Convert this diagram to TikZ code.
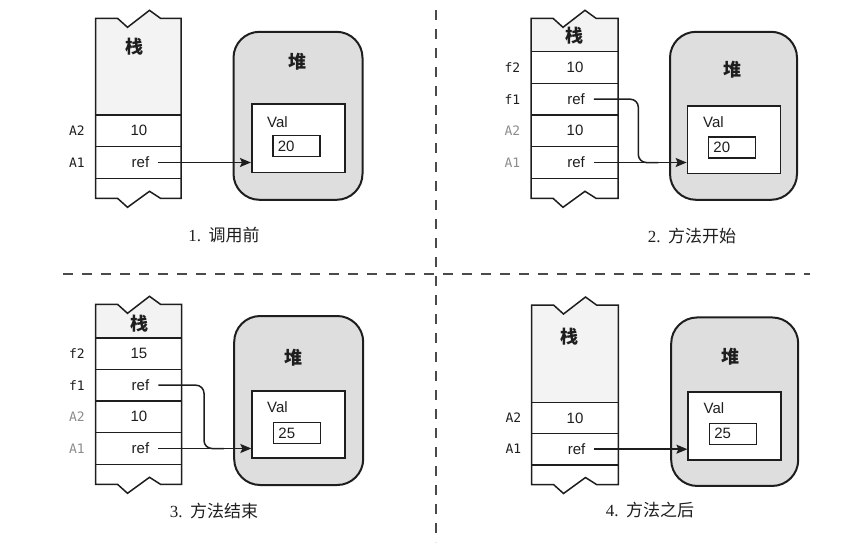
\documentclass[tikz,border=0pt]{standalone}
\usepackage{fontspec}
\setmainfont{Liberation Sans}
\newfontfamily\cjk{Noto Sans CJK SC}
\newfontfamily\monofont{DejaVu Sans Mono}
\newfontfamily\seriffont{Liberation Serif}
\usetikzlibrary{arrows.meta}
\definecolor{ink}{HTML}{1E1E1E}
\definecolor{heapfill}{HTML}{DEDEDE}
\definecolor{stackfill}{HTML}{F3F3F3}
\definecolor{dimlabel}{HTML}{8C8C8C}
\definecolor{divcol}{HTML}{4A4A4A}
% #1 L, #2 T, #3 R, #4 B, #5 first row line
\newcommand{\mystackbody}[5]{%
  \fill[white] (#1,#2) -- (#1+22,#2) -- (#1+32,#2+9) -- (#1+54,#2-8) -- (#1+65,#2) -- (#3,#2)
     -- (#3,#4) -- (#1+65,#4) -- (#1+54,#4-7) -- (#1+32,#4+9) -- (#1+22,#4) -- (#1,#4) -- cycle;
  \fill[stackfill] (#1,#2) -- (#1+22,#2) -- (#1+32,#2+9) -- (#1+54,#2-8) -- (#1+65,#2) -- (#3,#2)
     -- (#3,#5) -- (#1,#5) -- cycle;
  \draw[stackline] (#1,#2) -- (#1+22,#2) -- (#1+32,#2+9) -- (#1+54,#2-8) -- (#1+65,#2) -- (#3,#2)
     -- (#3,#4) -- (#1+65,#4) -- (#1+54,#4-7) -- (#1+32,#4+9) -- (#1+22,#4) -- (#1,#4) -- cycle;
}
\begin{document}
\begin{tikzpicture}[x=1pt,y=-1pt,
  stackline/.style={draw=ink,line width=1.5pt,line join=miter},
  heap/.style={draw=ink,line width=2pt,fill=heapfill,rounded corners=26pt,inner sep=0pt},
  objbox/.style={draw=ink,line width=1.7pt,fill=white,inner sep=0pt},
  valbox/.style={draw=ink,line width=1.5pt,fill=white,inner sep=0pt,minimum width=47pt,minimum height=21pt},
  cell/.style={font=\fontsize{15}{15}\selectfont,text=ink,inner sep=1pt},
  valtext/.style={font=\fontsize{15}{15}\selectfont,text=ink,inner sep=0pt,anchor=west},
  cjktitle/.style={font=\cjk\bfseries\fontsize{18}{18}\selectfont,text=ink,inner sep=0pt},
  varlabel/.style={font=\monofont\fontsize{13}{13}\selectfont,text=ink,anchor=east,inner sep=0pt},
  dimvar/.style={varlabel,text=dimlabel},
  conn/.style={draw=ink,line width=1.5pt,-{Stealth[length=11pt,width=9pt,inset=2pt]}},
  joinline/.style={draw=ink,line width=1.5pt,rounded corners=8pt},
  caption/.style={font=\cjk\fontsize{17}{17}\selectfont,text=ink,inner sep=0pt},
  divider/.style={draw=divcol,line width=1.7pt,dash pattern=on 10pt off 9pt}]
\useasboundingbox (0,0) rectangle (864,544);

% ---------- dividers ----------
\coordinate (vtop) at (436,10);
\coordinate (vbot) at (436,542);
\coordinate (hleft) at (63,274);
\coordinate (hright) at (810,274);
\draw[divider] (vtop) -- (vbot);
\draw[divider] (hleft) -- (hright);

% ---------- panel 1 ----------
\mystackbody{95.5}{18.3}{181}{198.3}{115}
\draw[stackline] (95.5,115) -- (181,115) (95.5,146.7) -- (181,146.7) (95.5,178.3) -- (181,178.3);
\node[cjktitle] (p1stack) at (134.5,46.7) {栈};
\node[cell] (p1a2) at (139,130.8) {10};
\node[cell] (p1a1) at (140.5,162.5) {ref};
\node[varlabel] (p1la2) at (85,130.8) {A2};
\node[varlabel] (p1la1) at (85,162.5) {A1};
\node[heap,minimum width=129pt,minimum height=168pt] (p1heap) at (298,115.8) {};
\node[cjktitle] (p1heapt) at (297,61.7) {堆};
\node[objbox,minimum width=93pt,minimum height=68.5pt] (p1obj) at (298.3,138.3) {};
\node[cell,inner sep=0pt] (p1valt) at (277.5,121.7) {Val};
\node[valbox] (p1vb) at (296.3,146.2) {};
\node[valtext] (p1num) at ([xshift=5.5pt]p1vb.west) {20};
\draw[conn] ([xshift=8pt]p1a1.east) -- (p1a1.east -| p1obj.west);
\node[caption] (p1cap) at (224,235.5) {{\seriffont 1.}\hspace{0.45em}调用前};

% ---------- panel 2 ----------
\mystackbody{531}{18.3}{618}{198.3}{51.7}
\draw[stackline] (531,51.7) -- (618,51.7) (531,83.3) -- (618,83.3) (531,115) -- (618,115)
  (531,146.7) -- (618,146.7) (531,178.3) -- (618,178.3);
\node[cjktitle] (p2stack) at (574,36) {栈};
\node[cell] (p2f2) at (575,67.5) {10};
\node[cell] (p2f1) at (576,99.2) {ref};
\node[cell] (p2a2) at (575,130.8) {10};
\node[cell] (p2a1) at (576,162.5) {ref};
\node[varlabel] (p2lf2) at (520.5,67.5) {f2};
\node[varlabel] (p2lf1) at (520.5,99.2) {f1};
\node[dimvar] (p2la2) at (520.5,130.8) {A2};
\node[dimvar] (p2la1) at (520.5,162.5) {A1};
\node[heap,minimum width=127pt,minimum height=168pt] (p2heap) at (733.5,115.8) {};
\node[cjktitle] (p2heapt) at (732,70) {堆};
\node[objbox,minimum width=93pt,minimum height=67.5pt] (p2obj) at (734,139.7) {};
\node[cell,inner sep=0pt] (p2valt) at (713.5,121.7) {Val};
\node[valbox] (p2vb) at (732,147.5) {};
\node[valtext] (p2num) at ([xshift=5.5pt]p2vb.west) {20};
\coordinate (p2bend) at (638.3,0);
\draw[joinline] ([xshift=8pt]p2f1.east) -- (p2f1.east -| p2bend) -- (p2a1.east -| p2bend) -- ([xshift=20pt]p2a1.east -| p2bend);
\draw[conn] ([xshift=8pt]p2a1.east) -- (p2a1.east -| p2obj.west);
\node[caption] (p2cap) at (692,236) {{\seriffont 2.}\hspace{0.45em}方法开始};

% ---------- panel 3 ----------
\mystackbody{95.5}{304.3}{181.5}{484.3}{338}
\draw[stackline] (95.5,338) -- (181.5,338) (95.5,369.5) -- (181.5,369.5) (95.5,401) -- (181.5,401)
  (95.5,432.7) -- (181.5,432.7) (95.5,464.3) -- (181.5,464.3);
\node[cjktitle] (p3stack) at (139,324) {栈};
\node[cell] (p3f2) at (139,353.7) {15};
\node[cell] (p3f1) at (140.5,385.2) {ref};
\node[cell] (p3a2) at (139,416.8) {10};
\node[cell] (p3a1) at (140.5,448.5) {ref};
\node[varlabel] (p3lf2) at (85,353.7) {f2};
\node[varlabel] (p3lf1) at (85,385.2) {f1};
\node[dimvar] (p3la2) at (85,416.8) {A2};
\node[dimvar] (p3la1) at (85,448.5) {A1};
\node[heap,minimum width=129pt,minimum height=169pt] (p3heap) at (298.7,400.5) {};
\node[cjktitle] (p3heapt) at (293.5,358) {堆};
\node[objbox,minimum width=93pt,minimum height=67.5pt] (p3obj) at (298.7,424.5) {};
\node[cell,inner sep=0pt] (p3valt) at (277.5,406.7) {Val};
\node[valbox] (p3vb) at (297,433) {};
\node[valtext] (p3num) at ([xshift=5.5pt]p3vb.west) {25};
\coordinate (p3bend) at (204,0);
\draw[joinline] ([xshift=8pt]p3f1.east) -- (p3f1.east -| p3bend) -- (p3a1.east -| p3bend) -- ([xshift=20pt]p3a1.east -| p3bend);
\draw[conn] ([xshift=8pt]p3a1.east) -- (p3a1.east -| p3obj.west);
\node[caption] (p3cap) at (214,510.5) {{\seriffont 3.}\hspace{0.45em}方法结束};

% ---------- panel 4 ----------
\mystackbody{531.5}{305}{618.3}{484.5}{402.7}
\draw[stackline] (531.5,402.7) -- (618.3,402.7) (531.5,433.3) -- (618.3,433.3) (531.5,465) -- (618.3,465);
\node[cjktitle] (p4stack) at (569,337) {栈};
\node[cell] (p4a2) at (575,418) {10};
\node[cell] (p4a1) at (576.5,449.2) {ref};
\node[varlabel] (p4la2) at (521.5,418) {A2};
\node[varlabel] (p4la1) at (521.5,449.2) {A1};
\node[heap,minimum width=127pt,minimum height=168.5pt] (p4heap) at (734.7,401.7) {};
\node[cjktitle] (p4heapt) at (730,357) {堆};
\node[objbox,minimum width=92.5pt,minimum height=68.3pt] (p4obj) at (734.5,425.8) {};
\node[cell,inner sep=0pt] (p4valt) at (714,408.3) {Val};
\node[valbox] (p4vb) at (732.8,433.8) {};
\node[valtext] (p4num) at ([xshift=5.5pt]p4vb.west) {25};
\draw[conn] ([xshift=8pt]p4a1.east) -- (p4a1.east -| p4obj.west);
\node[caption] (p4cap) at (650,510) {{\seriffont 4.}\hspace{0.45em}方法之后};
\end{tikzpicture}
\end{document}
